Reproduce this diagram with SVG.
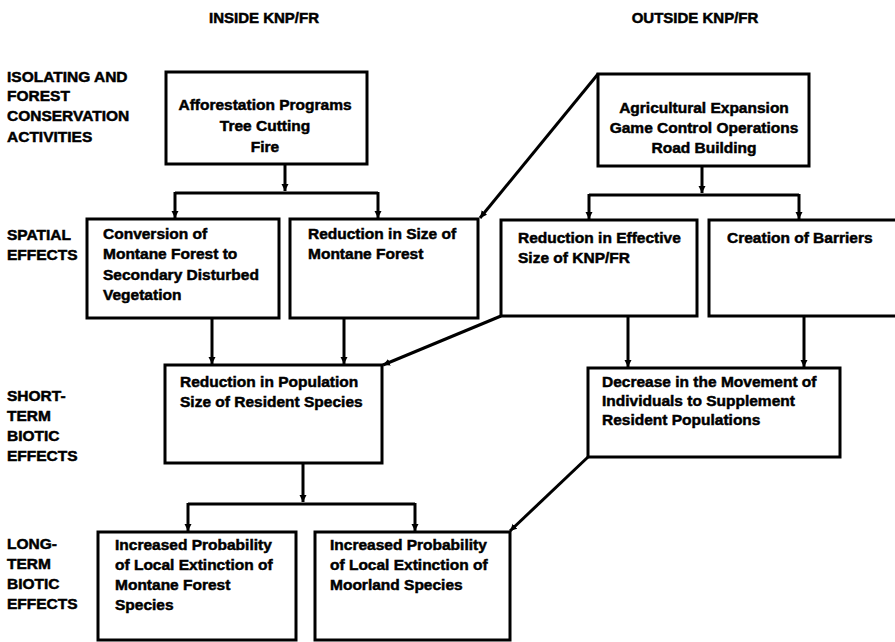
<svg xmlns="http://www.w3.org/2000/svg" width="895" height="642" viewBox="0 0 895 642">
<style>
text{font-family:"Liberation Sans",Arial,sans-serif;font-weight:bold;font-size:15.5px;fill:#000;stroke:#000;stroke-width:0.5}
.hdr{font-size:15px;text-anchor:middle}
.c{text-anchor:middle}
.box{fill:#fff;stroke:#000;stroke-width:3}
.ln{fill:none;stroke:#000;stroke-width:3}
</style>
<defs>
<marker id="ah" markerUnits="userSpaceOnUse" markerWidth="8" markerHeight="8" refX="7" refY="3.5" orient="auto">
<path d="M0,0 L7,3.5 L0,7 z" fill="#000"/>
</marker>
</defs>
<rect width="895" height="642" fill="#fff"/>
<g id="headers">
<text class="hdr" x="264" y="23">INSIDE KNP/FR</text>
<text class="hdr" x="695" y="23">OUTSIDE KNP/FR</text>
</g>
<g id="row-labels">
<text x="7" y="82">ISOLATING AND</text>
<text x="7" y="101">FOREST</text>
<text x="7" y="121">CONSERVATION</text>
<text x="7" y="142">ACTIVITIES</text>
<text x="7" y="240">SPATIAL</text>
<text x="7" y="260">EFFECTS</text>
<text x="7" y="401">SHORT-</text>
<text x="7" y="421">TERM</text>
<text x="7" y="441">BIOTIC</text>
<text x="7" y="461">EFFECTS</text>
<text x="7" y="549">LONG-</text>
<text x="7" y="569">TERM</text>
<text x="7" y="589">BIOTIC</text>
<text x="7" y="609">EFFECTS</text>
</g>
<g id="connectors">
<path class="ln" d="M285,164 V191" marker-end="url(#ah)"/>
<path class="ln" d="M175,193 H378"/>
<path class="ln" d="M175,192 V218" marker-end="url(#ah)"/>
<path class="ln" d="M378,192 V218" marker-end="url(#ah)"/>
<path class="ln" d="M702,166 V193" marker-end="url(#ah)"/>
<path class="ln" d="M589,195 H799"/>
<path class="ln" d="M589,194 V219" marker-end="url(#ah)"/>
<path class="ln" d="M799,194 V219" marker-end="url(#ah)"/>
<path class="ln" d="M598,74 L480,218" marker-end="url(#ah)"/>
<path class="ln" d="M212,318 V364" marker-end="url(#ah)"/>
<path class="ln" d="M344,318 V364" marker-end="url(#ah)"/>
<path class="ln" d="M501,316 L383,365" marker-end="url(#ah)"/>
<path class="ln" d="M628,316 V367" marker-end="url(#ah)"/>
<path class="ln" d="M804,316 V367" marker-end="url(#ah)"/>
<path class="ln" d="M303,463 V502" marker-end="url(#ah)"/>
<path class="ln" d="M188,504 H415"/>
<path class="ln" d="M188,503 V531" marker-end="url(#ah)"/>
<path class="ln" d="M415,503 V531" marker-end="url(#ah)"/>
<path class="ln" d="M588,457 L510,531" marker-end="url(#ah)"/>
</g>
<g id="afforestation">
<rect class="box" x="166" y="72" width="201" height="92"/>
<text class="c" x="265" y="110">Afforestation Programs</text>
<text class="c" x="265" y="131">Tree Cutting</text>
<text class="c" x="265" y="152">Fire</text>
</g>
<g id="agricultural">
<rect class="box" x="598" y="74" width="211" height="92"/>
<text class="c" x="704" y="113">Agricultural Expansion</text>
<text class="c" x="704" y="133">Game Control Operations</text>
<text class="c" x="704" y="153">Road Building</text>
</g>
<g id="conversion">
<rect class="box" x="87" y="219" width="192" height="99"/>
<text x="103" y="239">Conversion of</text>
<text x="103" y="259">Montane Forest to</text>
<text x="103" y="280">Secondary Disturbed</text>
<text x="103" y="300">Vegetation</text>
</g>
<g id="reduction-size">
<rect class="box" x="290" y="219" width="188" height="99"/>
<text x="308" y="239">Reduction in Size of</text>
<text x="308" y="259">Montane Forest</text>
</g>
<g id="reduction-effective">
<rect class="box" x="501" y="220" width="196" height="96"/>
<text x="518" y="243">Reduction in Effective</text>
<text x="518" y="263">Size of KNP/FR</text>
</g>
<g id="barriers">
<rect class="box" x="709" y="220" width="200" height="96"/>
<text x="727" y="243">Creation of Barriers</text>
</g>
<g id="reduction-population">
<rect class="box" x="165" y="365" width="217" height="98"/>
<text x="180" y="387">Reduction in Population</text>
<text x="180" y="407">Size of Resident Species</text>
</g>
<g id="decrease-movement">
<rect class="box" x="588" y="368" width="252" height="89"/>
<text x="602" y="387">Decrease in the Movement of</text>
<text x="602" y="406">Individuals to Supplement</text>
<text x="602" y="425">Resident Populations</text>
</g>
<g id="extinction-forest">
<rect class="box" x="98" y="532" width="198" height="108"/>
<text x="115" y="550">Increased Probability</text>
<text x="115" y="570">of Local Extinction of</text>
<text x="115" y="590">Montane Forest</text>
<text x="115" y="610">Species</text>
</g>
<g id="extinction-moorland">
<rect class="box" x="315" y="532" width="195" height="108"/>
<text x="330" y="550">Increased Probability</text>
<text x="330" y="570">of Local Extinction of</text>
<text x="330" y="590">Moorland Species</text>
</g>
</svg>
